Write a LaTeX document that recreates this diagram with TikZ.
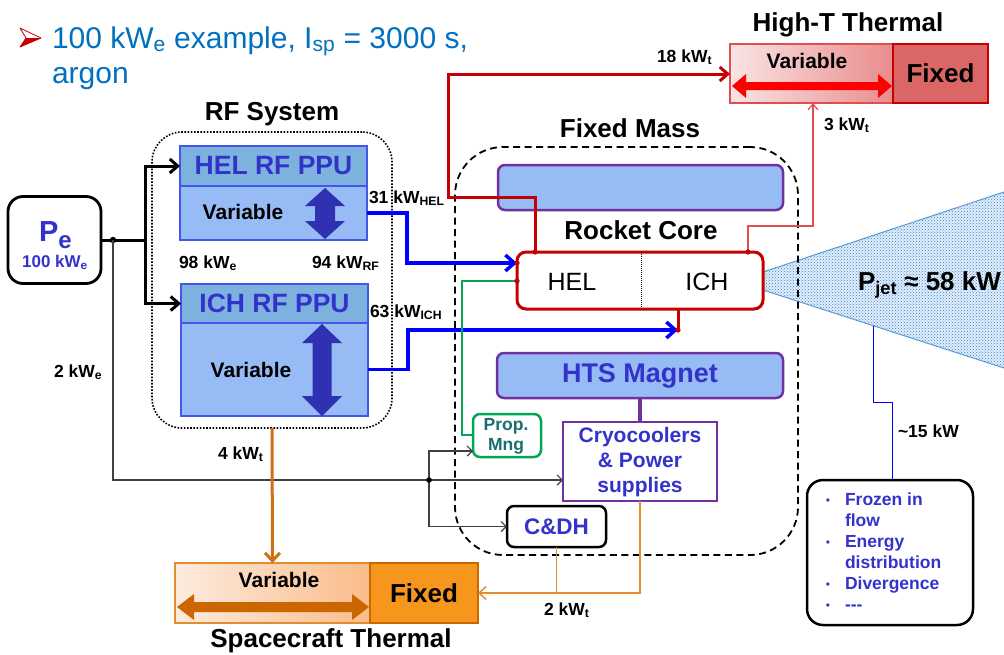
\documentclass[tikz,border=0pt]{standalone}
\usepackage{fontspec}
\setmainfont{Liberation Sans}
\usetikzlibrary{arrows.meta,patterns}
\definecolor{titleblue}{RGB}{0,112,192}
\definecolor{txtblue}{RGB}{51,51,204}
\definecolor{hdrfill}{RGB}{126,178,222}
\definecolor{bodyfill}{RGB}{150,187,245}
\definecolor{ppuedge}{RGB}{70,85,235}
\definecolor{darrow}{RGB}{48,48,178}
\definecolor{rcred}{RGB}{196,0,0}
\definecolor{thinred}{RGB}{222,80,80}
\definecolor{purp}{RGB}{112,48,160}
\definecolor{grn}{RGB}{0,166,80}
\definecolor{teal2}{RGB}{25,110,110}
\definecolor{orthick}{RGB}{210,110,20}
\definecolor{orthin}{RGB}{228,140,50}
\definecolor{orfix}{RGB}{247,150,28}
\definecolor{oredge}{RGB}{204,102,0}
\definecolor{orlight}{RGB}{253,235,222}
\definecolor{ormid}{RGB}{250,188,138}
\definecolor{pinklight}{RGB}{250,228,228}
\definecolor{pinkmid}{RGB}{233,140,140}
\definecolor{redfix}{RGB}{218,102,102}
\definecolor{plumeedge}{RGB}{91,155,213}
\definecolor{plumebg}{RGB}{225,238,250}
\definecolor{plumedot}{RGB}{60,130,205}
\definecolor{bluecon}{RGB}{0,0,255}
\newcommand{\myfs}[1]{\fontsize{#1}{#1}\selectfont}
\begin{document}
\begin{tikzpicture}[x=1pt,y=-1pt,
  every node/.style={inner sep=0pt, outer sep=0pt},
  nw/.style={anchor=north west},
  lbl/.style={font=\myfs{17.5}\bfseries, anchor=base west},
  hd/.style={font=\myfs{26}\bfseries, anchor=base},
  var/.style={font=\myfs{21}\bfseries, anchor=base},
  hdr/.style={nw, draw=ppuedge, line width=2pt, fill=hdrfill, text=txtblue, font=\myfs{26.5}\bfseries},
  body/.style={nw, draw=ppuedge, line width=1.5pt, fill=bodyfill},
  purpbox/.style={nw, draw=purp, line width=2.5pt, fill=bodyfill, rounded corners=7pt},
  blk/.style={line width=3pt, -{Straight Barb[length=8pt,width=14pt]}},
  gry/.style={line width=1.2pt, draw=black!75},
  gryarr/.style={gry, -{Straight Barb[length=5pt,width=10pt]}},
  bluearr/.style={line width=3.5pt, draw=bluecon, -{Straight Barb[length=9pt,width=16pt]}},
  redl/.style={line width=3pt, draw=rcred},
  reddot/.style={fill=rcred},
]
\useasboundingbox (0,0) rectangle (1004,654);
\fill[white] (0,0) rectangle (1004,654);
\clip (0,0) rectangle (1004,654);

% ---------- title ----------
\fill[white] (20,28) -- (41,38) -- (26,38) -- cycle;
\fill[rcred] (26,38) -- (41,38) -- (20,47) -- cycle;
\draw[rcred, line width=0.8pt, line join=round] (20,28) -- (41,38) -- (20,47) -- (26,38) -- cycle;
\node[font=\myfs{30}, text=titleblue, anchor=base west] (title1) at (52,48)
  {100 kW\textsubscript{e} example, I\textsubscript{sp} = 3000 s,};
\node[font=\myfs{30}, text=titleblue, anchor=base west] (title2) at (52,83) {argon};

% ---------- plume ----------
\fill[plumebg] (763,272) -- (1004,192) -- (1004,368) -- (763,290) -- cycle;
\fill[pattern=crosshatch dots, pattern color=plumedot] (763,272) -- (1004,192) -- (1004,368) -- (763,290) -- cycle;
\draw[plumeedge, line width=1pt] (763,272) -- (1004,192);
\draw[plumeedge, line width=1pt] (763,290) -- (1004,368);
\coordinate (pl) at (873,325.6);

% ---------- group boxes ----------
\node[nw, draw, line width=1.6pt, dash pattern=on 1.6pt off 1.6pt, rounded corners=30pt,
      minimum width=240pt, minimum height=296pt] (rfsys) at (152,132) {};
\node[hd] (rftitle) at (272,120) {RF System};
\node[nw, draw, line width=1.8pt, dash pattern=on 7pt off 4.5pt, rounded corners=48pt,
      minimum width=343pt, minimum height=408pt] (fm) at (455,147) {};
\node[hd] (fmtitle) at (630,137) {Fixed Mass};

% ---------- Pe ----------
\node[draw, line width=2.8pt, rounded corners=15pt, minimum width=93pt, minimum height=87pt]
  (pe) at (54.5,240) {};
\node[font=\bfseries, text=txtblue, anchor=base west] (petxt) at (39,241)
  {{\myfs{29}P}{\myfs{24}\raisebox{-7pt}{e}}};
\node[font=\myfs{17}\bfseries, text=txtblue, anchor=base] (pekw) at (55,267) {100 kW\textsubscript{e}};

% ---------- PPUs ----------
\node[hdr, minimum width=187pt, minimum height=40pt] (hhead) at (180,146) {HEL RF PPU};
\node[body, minimum width=187pt, minimum height=54pt] (hbody) at (180,186) {};
\node[hdr, minimum width=187pt, minimum height=39pt] (ihead) at (181,284) {ICH RF PPU};
\node[body, minimum width=187pt, minimum height=93pt] (ibody) at (181,323) {};
\node[var] (hvartxt) at (243,219) {Variable};
\node[var] (ivartxt) at (251,377) {Variable};
\fill[darrow] (325,188) -- (345,206) -- (335,206) -- (335,221) -- (345,221) -- (325,239)
  -- (305,221) -- (315,221) -- (315,206) -- (305,206) -- cycle;
\fill[darrow] (322,324) -- (342,343) -- (331.5,343) -- (331.5,396) -- (342,396) -- (322,416)
  -- (302,396) -- (312.5,396) -- (312.5,343) -- (302,343) -- cycle;

% ---------- fixed mass content ----------
\node[purpbox, minimum width=285pt, minimum height=45pt] (topbar) at (498,165) {};
\node[hd] (rctitle) at (641,239) {Rocket Core};
\node[nw, draw=rcred, line width=3pt, rounded corners=9pt, fill=white,
      minimum width=246pt, minimum height=57pt] (core) at (517,252) {};
\draw[black, line width=0.8pt, dash pattern=on 1pt off 1pt] (core.north -| 641,0) -- (core.south -| 641,0);
\node[font=\myfs{25}, anchor=base] (helc) at (572,290) {HEL};
\node[font=\myfs{25}, anchor=base] (ichc) at (707,290) {ICH};
\node[purpbox, minimum width=286pt, minimum height=45pt, text=txtblue, font=\myfs{27}\bfseries]
  (hts) at (497,353) {HTS Magnet};
\node[nw, draw=purp, line width=2.5pt, fill=white, minimum width=154pt, minimum height=79pt] (cryo) at (563,422) {};
\node[font=\fontsize{21}{25}\selectfont\bfseries, text=txtblue, align=center] (cryotxt) at (640,462)
  {Cryocoolers\\\& Power\\supplies};
\node[nw, draw=grn, line width=2.5pt, rounded corners=7pt, fill=white, minimum width=68pt, minimum height=43pt] (prop) at (473,414) {};
\node[font=\fontsize{17.5}{20}\selectfont\bfseries, text=teal2, align=center] (proptxt) at (506,436) {Prop.\\Mng};
\node[nw, draw, line width=2.5pt, rounded corners=7pt, fill=white, minimum width=99pt, minimum height=41pt,
      text=txtblue, font=\myfs{22.5}\bfseries] (cdh) at (507,506) {C\&DH};

% ---------- High-T thermal ----------
\node[hd] (httitle) at (848,31) {High-T Thermal};
\node[nw, left color=pinklight, right color=pinkmid, draw=thinred, line width=1.2pt,
      minimum width=163pt, minimum height=59pt] (hvar) at (730,44) {};
\node[nw, fill=redfix, draw=rcred, line width=2.5pt, minimum width=95pt, minimum height=59pt,
      font=\myfs{26}\bfseries] (hfix) at (893,44) {Fixed};
\node[var] (hvt) at (807,68) {Variable};
\fill[red] (732,86) -- (746,74) -- (746,82) -- (878,82) -- (878,74) -- (892,86) -- (878,98)
  -- (878,90) -- (746,90) -- (746,98) -- cycle;

% ---------- Spacecraft thermal ----------
\node[nw, left color=orlight, right color=ormid, draw=orthin, line width=1.2pt,
      minimum width=195pt, minimum height=60pt] (svar) at (175,563) {};
\node[nw, fill=orfix, draw=oredge, line width=2.5pt, minimum width=108pt, minimum height=60pt,
      font=\myfs{26}\bfseries] (sfix) at (370,563) {Fixed};
\node[var] (svt) at (279,587) {Variable};
\fill[oredge] (177,607) -- (194,594) -- (194,602) -- (352,602) -- (352,594) -- (369,607) -- (352,620)
  -- (352,612) -- (194,612) -- (194,620) -- cycle;
\node[hd] (sctitle) at (331,647) {Spacecraft Thermal};

% ---------- frozen box ----------
\node[nw, draw, line width=2.5pt, rounded corners=16pt, minimum width=166pt, minimum height=145pt] (frozen) at (807,480) {};
\foreach \i/\b/\t in {1/1/Frozen in, 2/0/flow, 3/1/Energy, 4/0/distribution, 5/1/Divergence, 6/1/-{}-{}-}{
  \node[font=\myfs{17.5}\bfseries, text=txtblue, anchor=base west] (fl\i) at (845,{505+21*(\i-1)}) {\t};
  \ifnum\b=1 \node[font=\myfs{12}, text=txtblue, anchor=base] (fb\i) at (828,{504+21*(\i-1)}) {•};\fi
}

% ---------- labels ----------
\node[lbl] (l98) at (179,268) {98 kW\textsubscript{e}};
\node[lbl] (l94) at (312,268) {94 kW\textsubscript{RF}};
\node[lbl] (l31) at (369,203) {31 kW\textsubscript{HEL}};
\node[lbl] (l63) at (370,317) {63 kW\textsubscript{ICH}};
\node[lbl] (l2e) at (54,377) {2 kW\textsubscript{e}};
\node[lbl] (l4t) at (218,459) {4 kW\textsubscript{t}};
\node[lbl] (l18) at (657,62) {18 kW\textsubscript{t}};
\node[lbl] (l3t) at (824,130) {3 kW\textsubscript{t}};
\node[lbl] (l2t) at (544,615) {2 kW\textsubscript{t}};
\node[lbl] (l15) at (898,437) {\textasciitilde 15 kW};
\node[font=\myfs{26}\bfseries, anchor=base west] (pjet) at (858,290) {P\textsubscript{jet} ≈ 58 kW};

% ---------- connectors ----------
\coordinate (j1) at (113,240);
\coordinate (jv) at (145,240);
\draw[line width=3pt] (pe.east) -- (jv);
\draw[blk] (jv) |- (hhead.west);
\draw[blk] (jv) |- (ihead.west);
\fill (j1) circle (3.2pt);

\coordinate (j2) at (429,480);
\draw[gry] (j1) |- (j2);
\draw[gryarr] (j2) -- (cryo.west |- j2);
\draw[gryarr] (j2) |- (prop.west |- 0,451);
\draw[gryarr] (j2) |- (cdh.west);
\fill (j2) circle (2.8pt);

\coordinate (hin) at (517,263);
\coordinate (cb) at (678,330);
\draw[bluearr] (hbody.east) -| (407,263) -- (hin);
\draw[bluearr] (ibody.east) -| (408,330) -- (cb);
\draw[redl] (core.south -| cb) -- (cb);

\coordinate (gin) at (517,281);
\draw[grn, line width=2pt] (gin) -| (462,435) -- (prop.west |- 0,435);

\coordinate (ct1) at (535,252);
\draw[redl, -{Straight Barb[length=8pt,width=14pt]}] (ct1) -- (535,197) -| (448,74) -- (hvar.west |- 0,74);
\coordinate (ct2) at (748,252);
\draw[thinred, line width=1.2pt, -{Straight Barb[length=6pt,width=10pt]}] (ct2) |- (813,226) -- (hvar.south -| 813,0);
\foreach \p in {hin, gin, cb, ct1, ct2} \fill[reddot] (\p) circle (2.6pt);

\draw[purp, line width=3.5pt] (hts.south) -- (cryo.north);
\draw[orthin, line width=1.5pt, -{Straight Barb[length=7pt,width=13pt]}] (cryo.south) |- (sfix.east);
\draw[orthin, line width=1.5pt] (cdh.south) -- (cdh.south |- sfix.east);
\draw[orthick, line width=3pt, -{Straight Barb[length=8pt,width=15pt]}] (rfsys.south) -- (svar.north);

\draw[bluecon, line width=1pt] (pl) |- (892,402) -- (frozen.north -| 892,0);
\end{tikzpicture}
\end{document}
